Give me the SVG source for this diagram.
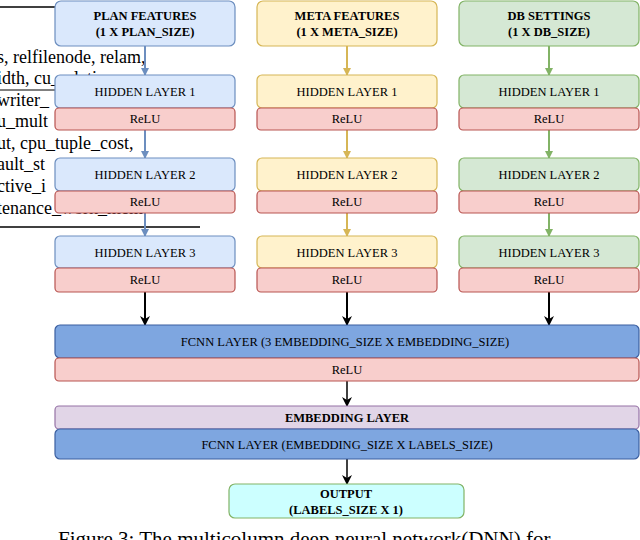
<svg xmlns="http://www.w3.org/2000/svg" width="640" height="540" viewBox="0 0 640 540">
<style>
text{font-family:'Liberation Serif','DejaVu Serif',serif;font-size:12.5px;text-anchor:middle;fill:#000}
.b{font-weight:bold}
.bg{text-anchor:start;font-size:18px}
.blue{fill:#dae8fc;stroke:#6c8ebf}
.yel{fill:#fff2cc;stroke:#d6b656}
.grn{fill:#d5e8d4;stroke:#82b366}
.red{fill:#f8cecc;stroke:#b85450}
.fc{fill:#7ea6e0;stroke:#3b5fa0}
.emb{fill:#e1d5e7;stroke:#9673a6}
.out{fill:#ccffff;stroke:#82b366}
rect{stroke-width:1.2}
</style>
<defs>
<marker id="ab" markerWidth="8" markerHeight="8" refX="7" refY="4" orient="auto" markerUnits="userSpaceOnUse"><path d="M0,0L8,4L0,8z" fill="#6c8ebf"/></marker>
<marker id="ay" markerWidth="8" markerHeight="8" refX="7" refY="4" orient="auto" markerUnits="userSpaceOnUse"><path d="M0,0L8,4L0,8z" fill="#d6b656"/></marker>
<marker id="ag" markerWidth="8" markerHeight="8" refX="7" refY="4" orient="auto" markerUnits="userSpaceOnUse"><path d="M0,0L8,4L0,8z" fill="#82b366"/></marker>
<marker id="ak" markerWidth="10" markerHeight="10" refX="9" refY="5" orient="auto" markerUnits="userSpaceOnUse"><path d="M0,0L10,5L0,10L3,5z" fill="#000"/></marker>
</defs>
<g id="background">
<line x1="0" y1="7" x2="200" y2="7" stroke="#000" stroke-width="1.5"/>
<text class="bg" x="-3" y="63">s,  relfilenode,  relam,</text>
<text class="bg" x="-3" y="84">idth, cu_relation</text>
<line x1="0" y1="90" x2="60" y2="90" stroke="#000"/>
<text class="bg" x="-3" y="106">writer_</text>
<text class="bg" x="-3" y="127">u_mult</text>
<text class="bg" x="-3" y="149">ut,   cpu_tuple_cost,</text>
<text class="bg" x="-3" y="170">ault_st</text>
<text class="bg" x="-3" y="192">ctive_i</text>
<text class="bg" x="-3" y="214">tenance_work_mem</text>
<line x1="0" y1="227" x2="200" y2="227" stroke="#000" stroke-width="1.5"/>
</g>
<g id="connectors" stroke-width="2" fill="none">
<path d="M145,46V75" stroke="#6c8ebf" marker-end="url(#ab)"/>
<path d="M145,130V158" stroke="#6c8ebf" marker-end="url(#ab)"/>
<path d="M145,213V236" stroke="#6c8ebf" marker-end="url(#ab)"/>
<path d="M347,46V75" stroke="#d6b656" marker-end="url(#ay)"/>
<path d="M347,130V158" stroke="#d6b656" marker-end="url(#ay)"/>
<path d="M347,213V236" stroke="#d6b656" marker-end="url(#ay)"/>
<path d="M549,46V75" stroke="#82b366" marker-end="url(#ag)"/>
<path d="M549,130V158" stroke="#82b366" marker-end="url(#ag)"/>
<path d="M549,213V236" stroke="#82b366" marker-end="url(#ag)"/>
<path d="M145,292V325" stroke="#000" marker-end="url(#ak)"/>
<path d="M347,292V325" stroke="#000" marker-end="url(#ak)"/>
<path d="M549,292V325" stroke="#000" marker-end="url(#ak)"/>
<path d="M347,381V406" stroke="#000" stroke-width="1.5" marker-end="url(#ak)"/>
<path d="M347,459V484" stroke="#000" stroke-width="1.5" marker-end="url(#ak)"/>
</g>
<g id="plan-features"><rect class="blue" x="55" y="1" width="180" height="45" rx="6"/><text class="b" x="145" y="20">PLAN FEATURES</text><text class="b" x="145" y="36">(1 X PLAN_SIZE)</text></g>
<g id="meta-features"><rect class="yel" x="257" y="1" width="180" height="45" rx="6"/><text class="b" x="347" y="20">META FEATURES</text><text class="b" x="347" y="36">(1 X META_SIZE)</text></g>
<g id="db-settings"><rect class="grn" x="459" y="1" width="180" height="45" rx="6"/><text class="b" x="549" y="20">DB SETTINGS</text><text class="b" x="549" y="36">(1 X DB_SIZE)</text></g>
<g id="plan-h1"><rect class="blue" x="55" y="75" width="180" height="33" rx="5"/><text x="145" y="96">HIDDEN LAYER 1</text><rect class="red" x="55" y="108" width="180" height="22" rx="4"/><text x="145" y="123">ReLU</text></g>
<g id="plan-h2"><rect class="blue" x="55" y="158" width="180" height="33" rx="5"/><text x="145" y="179">HIDDEN LAYER 2</text><rect class="red" x="55" y="191" width="180" height="22" rx="4"/><text x="145" y="206">ReLU</text></g>
<g id="plan-h3"><rect class="blue" x="55" y="236" width="180" height="32" rx="5"/><text x="145" y="257">HIDDEN LAYER 3</text><rect class="red" x="55" y="268" width="180" height="24" rx="4"/><text x="145" y="284">ReLU</text></g>
<g id="meta-h1"><rect class="yel" x="257" y="75" width="180" height="33" rx="5"/><text x="347" y="96">HIDDEN LAYER 1</text><rect class="red" x="257" y="108" width="180" height="22" rx="4"/><text x="347" y="123">ReLU</text></g>
<g id="meta-h2"><rect class="yel" x="257" y="158" width="180" height="33" rx="5"/><text x="347" y="179">HIDDEN LAYER 2</text><rect class="red" x="257" y="191" width="180" height="22" rx="4"/><text x="347" y="206">ReLU</text></g>
<g id="meta-h3"><rect class="yel" x="257" y="236" width="180" height="32" rx="5"/><text x="347" y="257">HIDDEN LAYER 3</text><rect class="red" x="257" y="268" width="180" height="24" rx="4"/><text x="347" y="284">ReLU</text></g>
<g id="db-h1"><rect class="grn" x="459" y="75" width="180" height="33" rx="5"/><text x="549" y="96">HIDDEN LAYER 1</text><rect class="red" x="459" y="108" width="180" height="22" rx="4"/><text x="549" y="123">ReLU</text></g>
<g id="db-h2"><rect class="grn" x="459" y="158" width="180" height="33" rx="5"/><text x="549" y="179">HIDDEN LAYER 2</text><rect class="red" x="459" y="191" width="180" height="22" rx="4"/><text x="549" y="206">ReLU</text></g>
<g id="db-h3"><rect class="grn" x="459" y="236" width="180" height="32" rx="5"/><text x="549" y="257">HIDDEN LAYER 3</text><rect class="red" x="459" y="268" width="180" height="24" rx="4"/><text x="549" y="284">ReLU</text></g>
<g id="fcnn1"><rect class="fc" x="55" y="325" width="584" height="33" rx="5"/><text x="345" y="346">FCNN LAYER (3 EMBEDDING_SIZE X  EMBEDDING_SIZE)</text><rect class="red" x="55" y="358" width="584" height="23" rx="4"/><text x="347" y="374">ReLU</text></g>
<g id="embedding"><rect class="emb" x="55" y="406" width="584" height="23" rx="4"/><text class="b" x="347" y="422">EMBEDDING LAYER</text></g>
<g id="fcnn2"><rect class="fc" x="55" y="429" width="584" height="30" rx="5"/><text x="347" y="449">FCNN LAYER (EMBEDDING_SIZE X  LABELS_SIZE)</text></g>
<g id="output"><rect class="out" x="229" y="484" width="235" height="34" rx="6"/><text class="b" x="346" y="498">OUTPUT</text><text class="b" x="346" y="514">(LABELS_SIZE X 1)</text></g>
<text x="58" y="546" style="font-size:21px;text-anchor:start">Figure 3: The multicolumn deep neural network(DNN) for</text>
</svg>
